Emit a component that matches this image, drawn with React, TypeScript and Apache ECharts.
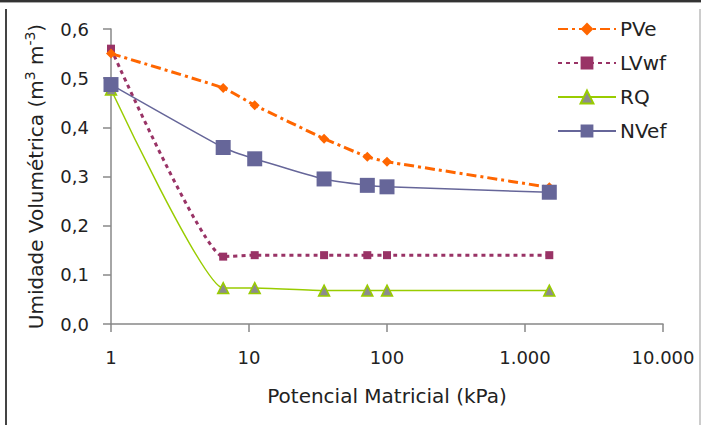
import React, { useEffect, useRef } from "react";
import * as echarts from "echarts";

const potencial = [1, 6.5, 11, 35, 72, 100, 1500];
const pve = [0.55, 0.48, 0.445, 0.377, 0.34, 0.33, 0.278];
const lvwf = [0.56, 0.137, 0.14, 0.14, 0.14, 0.14, 0.14];
const rq = [0.477, 0.073, 0.073, 0.068, 0.068, 0.068, 0.068];
const nvef = [0.487, 0.359, 0.336, 0.295, 0.282, 0.279, 0.268];
const seriesNames = ["PVe", "LVwf", "RQ", "NVef"];

const FONT = "DejaVu Sans";

function pairs(ys: number[]) {
  return potencial.map((x, i) => [x, ys[i]]);
}

export default function App() {
  const ref = useRef<HTMLDivElement>(null);
  useEffect(() => {
    const chart = echarts.init(ref.current!, null, { renderer: "svg" });
    chart.setOption({
      animation: false,
      backgroundColor: "#ffffff",
      grid: { left: 111, right: 38, top: 29, bottom: 101 },
      legend: {
        orient: "vertical",
        left: 552,
        top: 14,
        itemWidth: 58,
        itemHeight: 16,
        itemGap: 14,
        data: seriesNames,
        textStyle: { fontFamily: FONT, fontSize: 20, color: "#222", padding: [0, 0, 0, -1] },
      },
      xAxis: {
        type: "log",
        logBase: 10,
        min: 1,
        max: 10000,
        name: "Potencial Matricial (kPa)",
        nameLocation: "middle",
        nameGap: 62,
        nameTextStyle: { fontFamily: FONT, fontSize: 20, color: "#222" },
        axisLine: { lineStyle: { color: "#888", width: 1.5 } },
        axisTick: { show: true, length: 8, lineStyle: { color: "#888", width: 1.5 } },
        minorTick: { show: false },
        splitLine: { show: false },
        axisLabel: {
          margin: 24,
          fontFamily: FONT,
          fontSize: 18,
          color: "#222",
          formatter: (v: number) => Math.round(v).toString().replace(/\B(?=(\d{3})+(?!\d))/g, "."),
        },
      },
      yAxis: {
        type: "value",
        min: 0,
        max: 0.6,
        interval: 0.1,
        name: "Umidade Volumétrica (m{sup|3} m{sup|-3})",
        nameLocation: "middle",
        nameGap: 62,
        nameTextStyle: {
          fontFamily: FONT,
          fontSize: 20,
          color: "#222",
          lineHeight: 26,
          rich: {
            sup: { fontFamily: FONT, fontSize: 14, color: "#222", verticalAlign: "top", lineHeight: 14 },
          },
        },
        axisLine: { show: true, lineStyle: { color: "#888", width: 1.5 } },
        axisTick: { show: true, length: 8, lineStyle: { color: "#888", width: 1.5 } },
        splitLine: { show: false },
        axisLabel: {
          margin: 22,
          fontFamily: FONT,
          fontSize: 18,
          color: "#222",
          formatter: (v: number) => v.toFixed(1).replace(".", ","),
        },
      },
      series: [
        {
          name: "PVe",
          type: "line",
          data: pairs(pve),
          smooth: 0.15,
          symbol: "diamond",
          symbolSize: 10,
          itemStyle: { color: "#FF6600" },
          lineStyle: { color: "#FF6600", width: 3, type: [10, 4, 3, 4] },
          z: 4,
        },
        {
          name: "LVwf",
          type: "line",
          data: pairs(lvwf),
          smooth: 0.15,
          symbol: "rect",
          symbolSize: 8,
          itemStyle: { color: "#993366" },
          lineStyle: { color: "#993366", width: 3, type: [4, 4] },
          z: 3,
        },
        {
          name: "RQ",
          type: "line",
          data: pairs(rq),
          smooth: 0.15,
          symbol: "triangle",
          symbolSize: 11,
          itemStyle: { color: "#8C8C8C", borderColor: "#99CC00", borderWidth: 1.5 },
          lineStyle: { color: "#99CC00", width: 1.5 },
          z: 2,
        },
        {
          name: "NVef",
          type: "line",
          data: pairs(nvef),
          smooth: 0.15,
          symbol: "rect",
          symbolSize: 15,
          itemStyle: { color: "#666699" },
          lineStyle: { color: "#666699", width: 1.5 },
          z: 5,
        },
      ],
      graphic: [
        { type: "rect", shape: { x: 0, y: 0, width: 701, height: 2 }, style: { fill: "#333" } },
        { type: "rect", shape: { x: 0, y: 2, width: 701, height: 1 }, style: { fill: "#aaa" } },
        { type: "line", shape: { x1: 6, y1: 9, x2: 6, y2: 425 }, style: { stroke: "#444", lineWidth: 2 } },
        { type: "line", shape: { x1: 700, y1: 9, x2: 700, y2: 425 }, style: { stroke: "#bbb", lineWidth: 1.5 } },
      ],
    });
    return () => chart.dispose();
  }, []);
  return (
    <div
      ref={ref}
      style={{ position: "absolute", left: 0, top: 0, width: 701, height: 425 }}
    />
  );
}
